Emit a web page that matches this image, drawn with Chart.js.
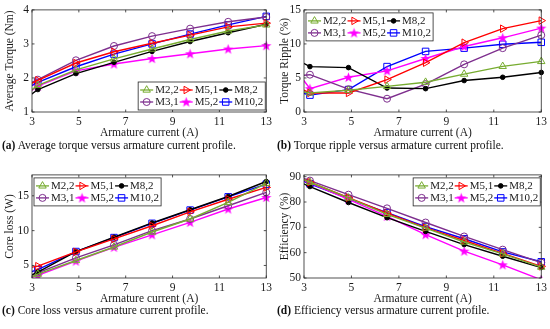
<!DOCTYPE html>
<html>
<head>
<meta charset="utf-8">
<script src="https://cdn.jsdelivr.net/npm/chart.js@4.4.1/dist/chart.umd.min.js"></script>
<style>
  body { margin: 0; background: #fff; }
  #wrap { position: relative; width: 550px; height: 329px; overflow: hidden; }
  canvas { position: absolute; display: block; }
  .cap { position: absolute; font: 11.5px "Liberation Serif", serif; color: #111; white-space: nowrap; line-height: 13px; }
</style>
</head>
<body>
<div id="wrap">
  <canvas id="cA" width="275" height="140" style="left:0;top:0"></canvas>
  <canvas id="cB" width="275" height="140" style="left:275px;top:0"></canvas>
  <canvas id="cC" width="275" height="141" style="left:0;top:165px"></canvas>
  <canvas id="cD" width="275" height="141" style="left:275px;top:165px"></canvas>
  <div class="cap" style="left:2px;top:139px"><b>(a)</b> Average torque versus armature current profile.</div>
  <div class="cap" style="left:277px;top:139px"><b>(b)</b> Torque ripple versus armature current profile.</div>
  <div class="cap" style="left:2px;top:304px"><b>(c)</b> Core loss versus armature current profile.</div>
  <div class="cap" style="left:277px;top:304px"><b>(d)</b> Efficiency versus armature current profile.</div>
</div>
<script>
// armature current (A); the first point lies left of the axis and is clipped
const current = [1.625, 3.25, 4.875, 6.5, 8.125, 9.75, 11.375, 13]
const xTicks = [3, 5, 7, 9, 11, 13]
const names = ['M2,2', 'M5,1', 'M8,2', 'M3,1', 'M5,2', 'M10,2']

// (a) average torque (Nm)
const torqueM22 = [1.0, 1.78, 2.24, 2.56, 2.85, 3.13, 3.38, 3.56]
const torqueM51 = [1.4, 1.93, 2.44, 2.77, 3.02, 3.26, 3.50, 3.61]
const torqueM82 = [0.82, 1.66, 2.13, 2.46, 2.78, 3.07, 3.33, 3.58]
const torqueM31 = [1.45, 1.95, 2.52, 2.94, 3.23, 3.45, 3.65, 3.79]
const torqueM52 = [1.0, 1.76, 2.21, 2.41, 2.57, 2.71, 2.85, 2.95]
const torqueM102 = [1.3, 1.87, 2.33, 2.70, 3.00, 3.29, 3.56, 3.81]
const torqueTicks = [1, 2, 3, 4]

// (b) torque ripple (%)
const rippleM22 = [3.7, 2.81, 3.19, 3.76, 4.38, 5.57, 6.71, 7.43]
const rippleM51 = [5.3, 2.80, 2.80, 4.76, 7.24, 10.19, 12.24, 13.43]
const rippleM82 = [9.7, 6.67, 6.52, 3.52, 3.43, 4.62, 5.10, 5.81]
const rippleM31 = [5.0, 5.48, 3.35, 1.95, 4.1, 7.0, 9.38, 11.29]
const rippleM52 = [11.0, 3.43, 5.10, 6.05, 7.86, 9.62, 10.90, 12.33]
const rippleM102 = [4.0, 2.48, 3.29, 6.67, 8.90, 9.38, 9.95, 10.24]
const rippleTicks = [0, 5, 10, 15]

// (c) core loss (W)
const coreM22 = [1.5, 3.75, 5.71, 7.65, 9.8, 11.67, 14.05, 16.8]
const coreM51 = [4.0, 4.9, 6.95, 8.81, 10.7, 12.7, 14.5, 16.2]
const coreM82 = [1.6, 4.05, 7.0, 9.05, 11.1, 13.0, 14.9, 17.05]
const coreM31 = [1.7, 3.95, 6.1, 7.95, 10.0, 11.67, 13.57, 15.5]
const coreM52 = [1.8, 3.57, 5.62, 7.6, 9.4, 11.19, 13.1, 14.76]
const coreM102 = [2.7, 4.4, 7.0, 9.0, 11.05, 12.95, 14.85, 16.67]
const coreTicks = [5, 10, 15]

// (d) efficiency (%)
const effM22 = [94.0, 87.8, 81.6, 75.1, 69.7, 64.2, 59.5, 54.3]
const effM51 = [93.9, 87.8, 81.7, 75.6, 69.9, 64.8, 59.7, 54.6]
const effM82 = [92.4, 86.1, 79.8, 73.8, 68.4, 63.2, 58.6, 54.1]
const effM31 = [94.0, 88.45, 82.9, 77.5, 71.9, 66.4, 61.2, 56.1]
const effM52 = [94.2, 87.6, 81.0, 74.3, 67.1, 60.6, 55.2, 49.3]
const effM102 = [93.1, 87.2, 81.3, 75.8, 70.3, 65.5, 60.3, 56.4]
const effTicks = [50, 60, 70, 80, 90]

const FONT = '"Liberation Serif", "Times New Roman", serif'
const INK = '#1a1a1a'

// filled pentagram for M5,2
function makeStar(color) {
  const c = document.createElement('canvas')
  c.width = 11; c.height = 11
  const g = c.getContext('2d')
  g.fillStyle = color
  g.beginPath()
  for (let i = 0; i < 10; i++) {
    const r = i % 2 ? 2.2 : 5.4
    const a = -Math.PI / 2 + i * Math.PI / 5
    const px = 5.5 + r * Math.cos(a), py = 5.8 + r * Math.sin(a)
    i ? g.lineTo(px, py) : g.moveTo(px, py)
  }
  g.closePath()
  g.fill()
  return c
}

const styles = [
  { color: '#77ac30', pointStyle: 'triangle', radius: 4.3, fill: false },
  { color: '#ff0000', pointStyle: 'triangle', rotation: 90, radius: 4.3, fill: false },
  { color: '#000000', pointStyle: 'circle', radius: 2.3, fill: true },
  { color: '#7e2f8e', pointStyle: 'circle', radius: 3.5, fill: false },
  { color: '#ff00ff', pointStyle: makeStar('#ff00ff'), radius: 5, fill: true },
  { color: '#0000ff', pointStyle: 'rect', radius: 4.6, fill: false },
]

function drawMarker(ctx, s, x, y) {
  ctx.save()
  if (typeof s.pointStyle !== 'string') {
    ctx.drawImage(s.pointStyle, x - s.pointStyle.width / 2, y - s.pointStyle.height / 2)
    ctx.restore()
    return
  }
  ctx.strokeStyle = s.color
  ctx.fillStyle = s.color
  ctx.lineWidth = 1
  ctx.beginPath()
  if (s.pointStyle === 'circle') ctx.arc(x, y, s.radius, 0, Math.PI * 2)
  else if (s.pointStyle === 'rect') {
    const h = s.radius * Math.SQRT1_2
    ctx.rect(x - h, y - h, 2 * h, 2 * h)
  } else {
    let a = (s.rotation || 0) * Math.PI / 180
    for (let i = 0; i < 3; i++) {
      const px = x + Math.sin(a) * s.radius, py = y - Math.cos(a) * s.radius
      i ? ctx.lineTo(px, py) : ctx.moveTo(px, py)
      a += 2 * Math.PI / 3
    }
    ctx.closePath()
  }
  if (s.fill) ctx.fill()
  ctx.stroke()
  ctx.restore()
}

// MATLAB style box with inward ticks on all four sides
const boxPlugin = {
  id: 'box',
  afterDatasetsDraw(chart) {
    const { ctx, chartArea: a, scales } = chart
    ctx.save()
    ctx.strokeStyle = '#262626'
    ctx.lineWidth = 0.8
    ctx.strokeRect(a.left, a.top, a.right - a.left, a.bottom - a.top)
    ctx.beginPath()
    scales.x.ticks.forEach(t => {
      const px = scales.x.getPixelForValue(t.value)
      ctx.moveTo(px, a.bottom); ctx.lineTo(px, a.bottom - 2.5)
      ctx.moveTo(px, a.top); ctx.lineTo(px, a.top + 2.5)
    })
    scales.y.ticks.forEach(t => {
      const py = scales.y.getPixelForValue(t.value)
      ctx.moveTo(a.left, py); ctx.lineTo(a.left + 2.5, py)
      ctx.moveTo(a.right, py); ctx.lineTo(a.right - 2.5, py)
    })
    ctx.stroke()
    ctx.restore()
  },
}

// legend box inside the axes, 3 columns x 2 rows
const boxLegend = {
  id: 'boxLegend',
  afterDatasetsDraw(chart, args, opts) {
    const { ctx, chartArea: a } = chart
    const sets = chart.data.datasets
    ctx.save()
    ctx.font = '11px ' + FONT
    const icon = 13, gap = 2, colGap = 1, pad = 2, rowH = 12
    const cols = [0, 1, 2].map(c => {
      const w = Math.max(ctx.measureText(sets[c].label).width, ctx.measureText(sets[c + 3].label).width)
      return icon + gap + w
    })
    const W = pad * 2 + cols[0] + cols[1] + cols[2] + colGap * 2
    const H = pad * 2 + rowH * 2
    const bx = opts.corner[1] === 'l' ? a.left + 2 : a.right - 1 - W
    const by = opts.corner[0] === 't' ? a.top + 3 : a.bottom - 2 - H
    ctx.fillStyle = '#fff'
    ctx.fillRect(bx, by, W, H)
    ctx.strokeStyle = '#262626'
    ctx.lineWidth = 0.8
    ctx.strokeRect(bx, by, W, H)
    ctx.textBaseline = 'middle'
    sets.forEach((ds, i) => {
      const c = i % 3, r = Math.floor(i / 3)
      let x = bx + pad
      for (let k = 0; k < c; k++) x += cols[k] + colGap
      const y = by + pad + rowH * r + rowH / 2
      const s = styles[i]
      ctx.strokeStyle = s.color
      ctx.lineWidth = 1.3
      ctx.beginPath(); ctx.moveTo(x, y); ctx.lineTo(x + icon, y); ctx.stroke()
      drawMarker(ctx, s, x + icon / 2, y)
      ctx.fillStyle = INK
      ctx.fillText(ds.label, x + icon + gap, y + 0.5)
    })
    ctx.restore()
  },
}

function makeChart(id, series, yTicks, yMin, yMax, yTitle, area, corner) {
  const datasets = series.map((vals, i) => {
    const s = styles[i]
    return {
      label: names[i],
      data: current.map((x, k) => ({ x, y: vals[k] })),
      borderColor: s.color,
      backgroundColor: s.fill ? s.color : 'rgba(0,0,0,0)',
      pointBorderColor: s.color,
      pointBackgroundColor: s.fill ? s.color : 'rgba(0,0,0,0)',
      pointStyle: s.pointStyle,
      pointRotation: s.rotation || 0,
      pointRadius: s.radius,
      pointBorderWidth: 1,
      borderWidth: 1.4,
      tension: 0,
      clip: { left: 0, top: 5, right: 6, bottom: 0 },
    }
  })
  const tickFont = { family: FONT, size: 11.5 }
  return new Chart(document.getElementById(id), {
    type: 'line',
    data: { datasets },
    plugins: [boxPlugin, boxLegend],
    options: {
      responsive: false,
      animation: false,
      events: [],
      layout: { padding: { left: 0, top: area.top, right: 275 - area.right, bottom: 0 } },
      plugins: {
        legend: { display: false },
        tooltip: { enabled: false },
        boxLegend: { corner },
      },
      scales: {
        x: {
          type: 'linear', min: 3, max: 13,
          afterBuildTicks: s => { s.ticks = xTicks.map(value => ({ value })) },
          afterFit: s => { s.height = 28 },
          grid: { display: false, drawTicks: false },
          border: { display: false },
          ticks: { font: tickFont, color: INK, padding: 3, maxRotation: 0 },
          title: { display: true, text: 'Armature current (A)', font: tickFont, color: INK, padding: { top: 2, bottom: 0 } },
        },
        y: {
          type: 'linear', min: yMin, max: yMax,
          afterBuildTicks: s => { s.ticks = yTicks.map(value => ({ value })) },
          afterFit: s => { s.width = area.left },
          grid: { display: false, drawTicks: false },
          border: { display: false },
          ticks: { font: tickFont, color: INK, padding: 3 },
          title: { display: true, text: yTitle, font: tickFont, color: INK, padding: { top: 3, bottom: 0 } },
        },
      },
    },
  })
}

makeChart('cA', [torqueM22, torqueM51, torqueM82, torqueM31, torqueM52, torqueM102],
  torqueTicks, 1, 4, 'Average Torque (Nm)', { left: 32, right: 267, top: 7 }, 'br')
makeChart('cB', [rippleM22, rippleM51, rippleM82, rippleM31, rippleM52, rippleM102],
  rippleTicks, 0, 15, 'Torque Ripple (%)', { left: 29, right: 268, top: 7 }, 'tl')
makeChart('cC', [coreM22, coreM51, coreM82, coreM31, coreM52, coreM102],
  coreTicks, 3.2, 18, 'Core loss (W)', { left: 32, right: 268, top: 9 }, 'tl')
makeChart('cD', [effM22, effM51, effM82, effM31, effM52, effM102],
  effTicks, 50, 90.7, 'Efficiency (%)', { left: 29, right: 268, top: 9 }, 'tr')
</script>
</body>
</html>
